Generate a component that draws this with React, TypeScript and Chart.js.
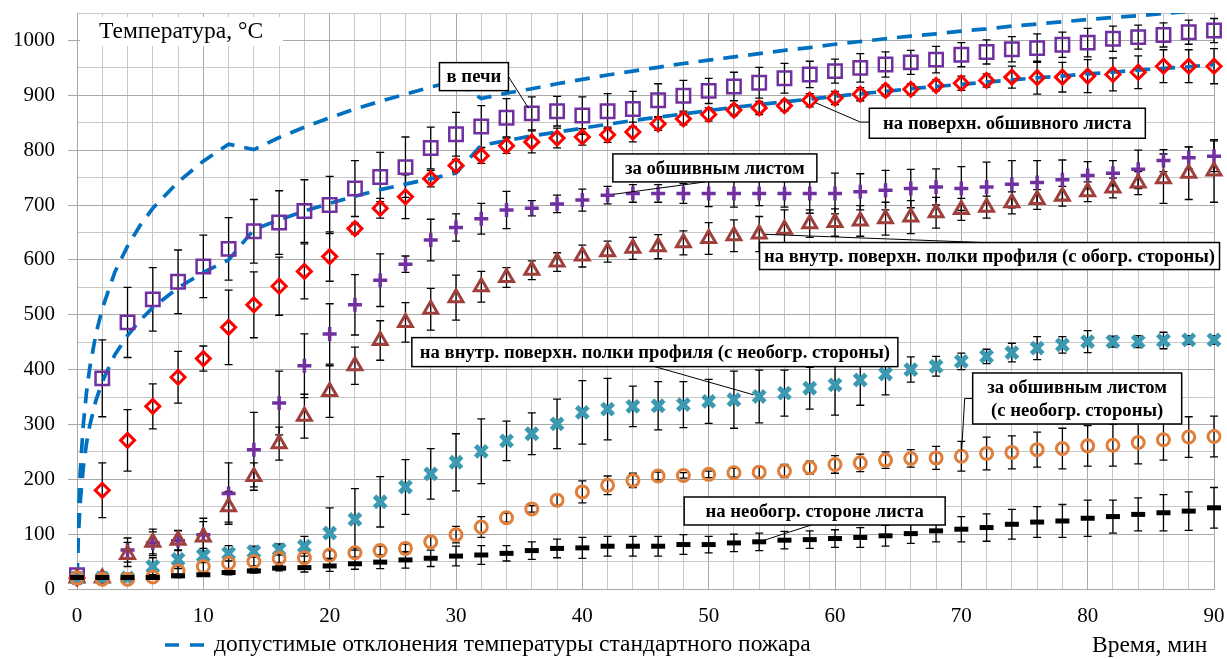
import React, { useEffect, useRef } from 'react';
import { Chart, registerables } from 'chart.js';

Chart.register(...registerables);

const FONT = "'Liberation Serif', 'Times New Roman', serif";

// Time, min
const TIME = [0, 2, 4, 6, 8, 10, 12, 14, 16, 18, 20, 22, 24, 26, 28, 30, 32, 34, 36, 38, 40, 42, 44, 46, 48, 50, 52, 54, 56, 58, 60, 62, 64, 66, 68, 70, 72, 74, 76, 78, 80, 82, 84, 86, 88, 90];

// в печи
const FURNACE = [25, 384, 486, 528, 560, 588, 620, 652, 668, 689, 700, 730, 751, 769, 804, 829, 843, 859, 867, 871, 863, 871, 875, 891, 899, 908, 916, 923, 931, 938, 944, 950, 956, 960, 965, 974, 979, 984, 986, 992, 996, 1003, 1006, 1010, 1015, 1018];
const FURNACE_ERR = [5, 70, 64, 58, 58, 57, 57, 58, 58, 57, 52, 51, 45, 55, 38, 40, 38, 35, 30, 27, 34, 32, 32, 30, 28, 23, 26, 28, 27, 24, 22, 26, 23, 22, 24, 22, 22, 23, 26, 23, 26, 23, 22, 22, 22, 22];

// на поверхн. обшивного листа
const SURFACE = [20, 180, 271, 333, 386, 420, 477, 518, 552, 579, 606, 657, 694, 715, 748, 772, 790, 808, 815, 822, 824, 828, 833, 848, 857, 865, 873, 877, 881, 891, 895, 902, 909, 911, 918, 922, 927, 933, 932, 933, 935, 938, 942, 953, 953, 953];
const SURFACE_ERR = [3, 50, 56, 41, 47, 23, 68, 60, 53, 50, 45, 10, 18, 40, 15, 11, 14, 14, 20, 18, 15, 14, 18, 12, 11, 12, 10, 12, 10, 12, 12, 12, 10, 10, 10, 13, 12, 20, 30, 27, 30, 30, 30, 30, 30, 32];

// за обшивным листом
const BEHIND = [22, 20, 71, 84, 88, 99, 174, 254, 339, 407, 465, 518, 563, 592, 636, 659, 675, 691, 694, 702, 709, 718, 721, 721, 721, 721, 721, 721, 721, 721, 721, 724, 727, 730, 733, 730, 733, 738, 741, 746, 754, 758, 765, 781, 786, 789];
const BEHIND_ERR = [3, 3, 22, 20, 18, 30, 56, 68, 58, 58, 55, 55, 48, 15, 38, 25, 28, 34, 14, 16, 20, 16, 16, 16, 18, 24, 25, 22, 25, 36, 37, 33, 36, 35, 33, 40, 45, 43, 40, 36, 25, 23, 35, 20, 20, 28];

// на внутр. поверхн. полки профиля (с обогр. стороны)
const FLANGE_HEATED = [20, 20, 63, 85, 89, 95, 150, 205, 265, 315, 360, 407, 453, 486, 510, 531, 551, 568, 581, 596, 607, 615, 621, 624, 631, 639, 644, 647, 656, 666, 668, 671, 675, 678, 686, 692, 696, 704, 710, 716, 724, 731, 740, 748, 758, 762];
const FLANGE_HEATED_ERR = [3, 3, 22, 24, 18, 28, 28, 25, 30, 40, 47, 34, 36, 36, 38, 41, 28, 18, 17, 17, 20, 19, 20, 22, 22, 29, 29, 32, 35, 25, 25, 28, 30, 30, 28, 20, 20, 20, 18, 18, 18, 18, 21, 45, 48, 57];

// на внутр. поверхн. полки профиля (с необогр. стороны)
const FLANGE_UNHEATED = [20, 20, 20, 41, 54, 61, 65, 68, 72, 78, 102, 127, 159, 186, 210, 231, 251, 270, 283, 301, 322, 328, 333, 334, 336, 342, 345, 351, 357, 366, 372, 381, 392, 400, 406, 415, 424, 431, 439, 445, 451, 451, 451, 453, 454, 454];
const FLANGE_UNHEATED_ERR = [3, 3, 3, 16, 17, 13, 14, 10, 10, 18, 46, 56, 46, 50, 46, 52, 59, 36, 38, 45, 58, 56, 37, 44, 42, 40, 52, 48, 42, 38, 55, 46, 38, 23, 18, 15, 13, 17, 21, 15, 20, 10, 11, 15, 8, 8];

// за обшивным листом (с необогр. стороны)
const BEHIND_UNHEATED = [20, 18, 18, 22, 33, 41, 47, 50, 56, 57, 62, 66, 70, 74, 86, 99, 113, 130, 146, 162, 177, 189, 198, 206, 207, 209, 212, 213, 215, 221, 227, 230, 235, 238, 239, 242, 247, 249, 254, 256, 261, 262, 267, 272, 277, 278];
const BEHIND_UNHEATED_ERR = [2, 2, 2, 4, 8, 10, 10, 8, 8, 8, 8, 8, 8, 8, 10, 15, 19, 8, 6, 10, 20, 17, 13, 7, 5, 6, 8, 10, 12, 12, 16, 16, 15, 16, 21, 27, 30, 30, 32, 37, 37, 38, 39, 37, 37, 37];

// на необогр. стороне листа
const SHEET_UNHEATED = [21, 21, 21, 21, 24, 26, 30, 33, 38, 39, 42, 46, 49, 53, 56, 60, 62, 65, 70, 74, 75, 78, 78, 78, 81, 81, 84, 86, 89, 90, 92, 94, 97, 101, 106, 109, 112, 118, 122, 124, 129, 132, 136, 139, 142, 148];
const SHEET_UNHEATED_ERR = [2, 2, 2, 2, 3, 3, 4, 4, 5, 8, 10, 10, 12, 15, 15, 18, 17, 14, 16, 17, 19, 18, 18, 18, 18, 15, 16, 16, 16, 16, 16, 18, 19, 18, 20, 23, 25, 27, 28, 30, 33, 30, 30, 33, 35, 37];

// допустимые отклонения температуры стандартного пожара
const TIME_STD = [0, 0.1, 0.25, 0.5, 0.75, 1, 1.5, 2, 3, 4, 5, 6, 8, 10, 12, 14, 16, 18, 20, 22, 24, 26, 28, 30, 32, 34, 36, 38, 40, 42, 44, 46, 48, 50, 52, 54, 56, 58, 60, 62, 64, 66, 68, 70, 72, 74, 76, 78, 80, 82, 84, 86, 88, 90];
const STD_UPPER = [20, 124, 212, 300, 358, 402, 465, 511, 578, 625, 663, 694, 742, 780, 811, 801, 823, 842, 859, 875, 889, 902, 915, 926, 894, 904, 912, 921, 929, 937, 944, 951, 958, 964, 970, 976, 982, 987, 993, 998, 1003, 1008, 1012, 1017, 1021, 1026, 1030, 1034, 1038, 1042, 1045, 1049, 1053, 1056];
const STD_LOWER = [20, 92, 157, 222, 265, 297, 344, 378, 427, 462, 490, 513, 549, 577, 600, 655, 673, 689, 703, 716, 728, 738, 748, 758, 809, 817, 826, 833, 840, 847, 854, 860, 866, 872, 878, 883, 888, 893, 898, 903, 907, 912, 916, 920, 924, 928, 932, 935, 939, 942, 946, 949, 952, 956];

const LEGEND_TEXT = 'допустимые отклонения температуры стандартного пожара';
const Y_TITLE = 'Температура, °C';
const X_TITLE = 'Время, мин';

// callouts: box centre in data units, size in px, leader start as fraction of box
const CALLOUTS = [
  { lines: ['в печи'], t: 31.42, v: 934, w: 69, h: 28, from: [1, 0.5], elbow: 0, target: [36, FURNACE[18]] },
  { lines: ['на поверхн. обшивного листа'], t: 73.64, v: 849, w: 276, h: 30, from: [0, 0.46], elbow: -9, target: [58, SURFACE[29]] },
  { lines: ['за обшивным листом'], t: 50.49, v: 767.6, w: 204, h: 28, from: [0.453, 1], elbow: 0, target: [42, BEHIND[21]] },
  { lines: ['на внутр. поверхн. полки профиля (с обогр. стороны)'], t: 72.23, v: 607, w: 460, h: 27, from: [0.485, 0], elbow: 0, target: [54, FLANGE_HEATED[27]] },
  { lines: ['на внутр. поверхн. полки профиля (с необогр. стороны)'], t: 45.74, v: 431.8, w: 486, h: 29, from: [0.5, 1], elbow: 0, target: [54, FLANGE_UNHEATED[27]] },
  { lines: ['за обшивным листом', '(с необогр. стороны)'], t: 79.17, v: 347.3, w: 209, h: 51, from: [0, 0.5], elbow: -8, target: [70, BEHIND_UNHEATED[35]] },
  { lines: ['на необогр. стороне листа'], t: 58.39, v: 142.2, w: 261, h: 28, from: [0.487, 1], elbow: 0, target: [54, SHEET_UNHEATED[27]] },
];

const errorBarPlugin = {
  id: 'errorBars',
  beforeDatasetsDraw(chart: any) {
    const { ctx } = chart;
    const xs = chart.scales.x;
    const ys = chart.scales.y;
    ctx.save();
    ctx.strokeStyle = '#000';
    ctx.lineWidth = 1.3;
    chart.data.datasets.forEach((ds: any) => {
      if (!ds.errors) return;
      ds.data.forEach((p: any, i: number) => {
        const e = ds.errors[i];
        const xp = xs.getPixelForValue(p.x);
        const y1 = ys.getPixelForValue(p.y + e);
        const y2 = ys.getPixelForValue(p.y - e);
        ctx.beginPath();
        ctx.moveTo(xp, y1);
        ctx.lineTo(xp, y2);
        ctx.moveTo(xp - 4, y1);
        ctx.lineTo(xp + 4, y1);
        ctx.moveTo(xp - 4, y2);
        ctx.lineTo(xp + 4, y2);
        ctx.stroke();
      });
    });
    ctx.restore();
  },
};

const annotPlugin = {
  id: 'annotations',
  afterDatasetsDraw(chart: any) {
    const { ctx } = chart;
    const xs = chart.scales.x;
    const ys = chart.scales.y;
    ctx.save();
    // y-axis title box
    ctx.fillStyle = '#fff';
    ctx.fillRect(80, 17, 203, 29);
    ctx.fillStyle = '#000';
    ctx.font = `23.5px ${FONT}`;
    ctx.textBaseline = 'middle';
    ctx.textAlign = 'left';
    ctx.fillText(Y_TITLE, 99, 32);

    for (const c of CALLOUTS) {
      const cx = xs.getPixelForValue(c.t);
      const cy = ys.getPixelForValue(c.v);
      const left = cx - c.w / 2;
      const top = cy - c.h / 2;
      const sx = left + c.from[0] * c.w;
      const sy = top + c.from[1] * c.h;
      const px = xs.getPixelForValue(c.target[0]);
      const py = ys.getPixelForValue(c.target[1]);
      let ax = sx;
      const ay = sy;
      ctx.strokeStyle = '#000';
      ctx.lineWidth = 1;
      ctx.beginPath();
      ctx.moveTo(sx, sy);
      if (c.elbow) {
        ax = sx + c.elbow;
        ctx.lineTo(ax, ay);
      }
      const dx = px - ax;
      const dy = py - ay;
      const len = Math.sqrt(dx * dx + dy * dy);
      const gap = 6;
      ctx.lineTo(px - (dx / len) * gap, py - (dy / len) * gap);
      ctx.stroke();

      ctx.fillStyle = '#fff';
      ctx.fillRect(left, top, c.w, c.h);
      ctx.lineWidth = 1.5;
      ctx.strokeRect(left, top, c.w, c.h);
      ctx.fillStyle = '#000';
      ctx.font = `bold 18.7px ${FONT}`;
      ctx.textAlign = 'center';
      ctx.textBaseline = 'middle';
      const lh = 23;
      const n = c.lines.length;
      c.lines.forEach((ln, i) => {
        ctx.fillText(ln, cx, cy + (i - (n - 1) / 2) * lh + 1);
      });
    }
    ctx.restore();
  },
  afterDraw(chart: any) {
    const { ctx } = chart;
    ctx.save();
    // legend
    ctx.strokeStyle = '#0070C0';
    ctx.lineWidth = 3.5;
    ctx.setLineDash([14, 11]);
    ctx.beginPath();
    ctx.moveTo(165, 645);
    ctx.lineTo(205, 645);
    ctx.stroke();
    ctx.setLineDash([]);
    ctx.fillStyle = '#000';
    ctx.font = `23.5px ${FONT}`;
    ctx.textBaseline = 'middle';
    ctx.textAlign = 'left';
    ctx.fillText(LEGEND_TEXT, 214, 645);
    // x title
    ctx.fillText(X_TITLE, 1092, 646);
    ctx.restore();
  },
};

const pts = (vals: number[]) => TIME.map((t, i) => ({ x: t, y: vals[i] }));

const markerSet = (label: string, vals: number[], errs: number[], style: string, color: string, radius: number, bw: number) => ({
  label,
  data: pts(vals),
  errors: errs,
  showLine: false,
  pointStyle: style,
  pointRadius: radius,
  pointBorderColor: color,
  pointBackgroundColor: 'rgba(0,0,0,0)',
  pointBorderWidth: bw,
  borderColor: color,
  backgroundColor: 'rgba(0,0,0,0)',
  clip: false,
});

const stdSet = (label: string, vals: number[]) => ({
  label,
  data: TIME_STD.map((t, i) => ({ x: t, y: vals[i] })),
  showLine: true,
  borderColor: '#0070C0',
  borderWidth: 3.7,
  borderDash: [15, 10],
  pointRadius: 0,
  tension: 0,
  fill: false,
});

export default function App() {
  const ref = useRef<HTMLCanvasElement>(null);
  useEffect(() => {
    const canvas = ref.current!;
    const gridColor = (major: (v: number) => boolean) => (c: any) =>
      c.tick && major(c.tick.value) ? '#A9A9A9' : '#C8C8C8';
    const chart = new Chart(canvas, {
      type: 'scatter',
      data: {
        datasets: [
          markerSet('на необогр. стороне листа', SHEET_UNHEATED, SHEET_UNHEATED_ERR, 'line', '#000000', 7, 5),
          markerSet('за обшивным листом (с необогр. стороны)', BEHIND_UNHEATED, BEHIND_UNHEATED_ERR, 'circle', '#E07E3C', 6, 3),
          markerSet('на внутр. поверхн. полки профиля (с необогр. стороны)', FLANGE_UNHEATED, FLANGE_UNHEATED_ERR, 'crossRot', '#3B9AB2', 8, 5),
          markerSet('на внутр. поверхн. полки профиля (с обогр. стороны)', FLANGE_HEATED, FLANGE_HEATED_ERR, 'triangle', '#9E3F3B', 8, 3),
          markerSet('за обшивным листом', BEHIND, BEHIND_ERR, 'cross', '#7030A0', 7, 3.5),
          markerSet('на поверхн. обшивного листа', SURFACE, SURFACE_ERR, 'rectRot', '#FF0000', 7, 3),
          markerSet('в печи', FURNACE, FURNACE_ERR, 'rect', '#7030A0', 9.5, 2.5),
          stdSet('допустимые отклонения (верх)', STD_UPPER),
          stdSet('допустимые отклонения (низ)', STD_LOWER),
        ] as any,
      },
      options: {
        responsive: false,
        animation: false,
        devicePixelRatio: 1,
        events: [],
        layout: { padding: { left: 0, right: 10.3, top: 12, bottom: 0 } },
        plugins: { legend: { display: false }, tooltip: { enabled: false } },
        scales: {
          x: {
            type: 'linear',
            min: 0,
            max: 90,
            afterFit: (s: any) => { s.height = 70; s.paddingLeft = 0; s.paddingRight = 0; },
            ticks: {
              stepSize: 2,
              autoSkip: false,
              maxRotation: 0,
              padding: 7,
              color: '#000',
              font: { family: FONT, size: 21 },
              callback: (v: any) => (Number(v) % 10 === 0 ? String(v) : ''),
            },
            grid: {
              color: gridColor((v) => v % 10 === 0),
              lineWidth: 1,
              tickLength: 8,
              tickColor: 'rgba(0,0,0,0)',
            },
            border: { color: '#A9A9A9', width: 1 },
          },
          y: {
            type: 'linear',
            min: 0,
            max: 1050,
            afterFit: (s: any) => { s.width = 77; s.paddingTop = 0; s.paddingBottom = 0; },
            ticks: {
              stepSize: 50,
              autoSkip: false,
              padding: 13,
              color: '#000',
              font: { family: FONT, size: 21 },
              callback: (v: any) => (Number(v) % 100 === 0 ? String(v) : ''),
            },
            grid: {
              color: gridColor((v) => v % 100 === 0),
              lineWidth: 1,
              tickLength: 9,
              tickColor: (c: any) => (c.tick && c.tick.value % 100 === 0 ? '#A9A9A9' : 'rgba(0,0,0,0)'),
            },
            border: { color: '#A9A9A9', width: 1 },
          },
        },
      } as any,
      plugins: [errorBarPlugin, annotPlugin],
    });
    return () => chart.destroy();
  }, []);
  return (
    <div style={{ position: 'fixed', left: 0, top: 0, width: 1227, height: 659, background: '#fff' }}>
      <canvas ref={ref} width={1227} height={659} style={{ width: 1227, height: 659, display: 'block' }} />
    </div>
  );
}
